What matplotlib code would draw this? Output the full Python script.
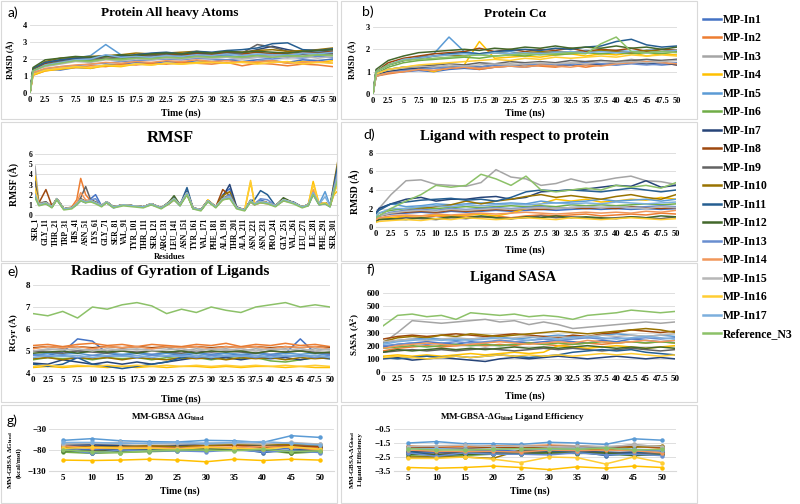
import matplotlib
matplotlib.use('Agg')
import matplotlib.pyplot as plt
from matplotlib.lines import Line2D
from matplotlib.patches import Rectangle

# fonts: Times-like bold everywhere, like the Excel original
plt.rcParams['font.family'] = ['Liberation Serif', 'DejaVu Serif']
plt.rcParams['font.weight'] = 'bold'
plt.rcParams['mathtext.fontset'] = 'custom'
plt.rcParams['mathtext.rm'] = 'Liberation Serif:bold'
plt.rcParams['mathtext.bf'] = 'Liberation Serif:bold'
plt.rcParams['mathtext.it'] = 'Liberation Serif:bold'

# ---------------- data ----------------
LABELS = ['MP-In1', 'MP-In2', 'MP-In3', 'MP-In4', 'MP-In5', 'MP-In6', 'MP-In7', 'MP-In8', 'MP-In9',
          'MP-In10', 'MP-In11', 'MP-In12', 'MP-In13', 'MP-In14', 'MP-In15', 'MP-In16', 'MP-In17',
          'Reference_N3']
COLORS = ['#4472C4', '#ED7D31', '#A5A5A5', '#FFC000', '#5B9BD5', '#70AD47', '#264478', '#9E480E',
          '#636363', '#997300', '#255E91', '#43682B', '#698ED0', '#F1975A', '#B7B7B7', '#FFCD33',
          '#7CAFDD', '#8CC168']

T_SHORT = [0, 0.5, 2.5, 5, 7.5, 10, 12.5, 15, 17.5, 20, 22.5, 25, 27.5, 30, 32.5, 35, 37.5, 40, 42.5, 45, 47.5, 50]
T_LONG = [0, 2.5, 5, 7.5, 10, 12.5, 15, 17.5, 20, 22.5, 25, 27.5, 30, 32.5, 35, 37.5, 40, 42.5, 45, 47.5, 50]
TIME_TICKS = [0, 2.5, 5, 7.5, 10, 12.5, 15, 17.5, 20, 22.5, 25, 27.5, 30, 32.5, 35, 37.5, 40, 42.5, 45, 47.5, 50]

# a) protein heavy atom RMSD (A)
RMSD_HEAVY = [
    [0, 1.15, 1.40, 1.35, 1.50, 1.45, 1.65, 1.70, 1.80, 1.75, 1.85, 1.80, 1.90, 1.85, 1.95, 1.85, 1.95, 1.90, 1.80, 1.95, 1.90, 2.00],
    [0, 1.05, 1.30, 1.45, 1.50, 1.60, 1.55, 1.70, 1.65, 1.75, 1.70, 1.80, 1.75, 1.70, 1.80, 1.60, 1.75, 1.70, 1.60, 1.70, 1.65, 1.55],
    [0, 1.30, 1.65, 1.80, 1.95, 1.90, 2.05, 2.00, 2.10, 2.05, 2.15, 2.05, 2.15, 2.10, 2.20, 2.10, 2.25, 2.20, 2.15, 2.25, 2.20, 2.35],
    [0, 1.05, 1.30, 1.40, 1.50, 1.45, 1.60, 1.55, 1.70, 1.65, 1.75, 1.70, 1.80, 1.85, 1.75, 1.85, 1.80, 1.90, 1.75, 1.85, 1.80, 1.90],
    [0, 1.40, 1.75, 1.95, 2.05, 2.20, 2.85, 2.25, 2.15, 2.20, 2.25, 2.15, 2.30, 2.25, 2.20, 2.30, 2.25, 2.35, 2.25, 2.30, 2.40, 2.45],
    [0, 1.30, 1.65, 1.80, 1.95, 1.90, 2.05, 2.00, 2.15, 2.10, 2.05, 2.15, 2.10, 2.20, 2.10, 2.15, 2.20, 2.10, 2.20, 2.15, 2.25, 2.20],
    [0, 1.40, 1.75, 1.90, 2.05, 2.00, 2.15, 2.20, 2.15, 2.25, 2.30, 2.25, 2.35, 2.30, 2.40, 2.35, 2.55, 2.75, 2.55, 2.40, 2.50, 2.45],
    [0, 1.35, 1.75, 1.95, 2.05, 2.10, 2.15, 2.10, 2.25, 2.20, 2.30, 2.25, 2.30, 2.25, 2.35, 2.30, 2.40, 2.30, 2.35, 2.40, 2.35, 2.45],
    [0, 1.30, 1.65, 1.85, 1.95, 2.05, 2.00, 2.15, 2.10, 2.20, 2.25, 2.15, 2.25, 2.20, 2.30, 2.35, 2.85, 2.70, 2.45, 2.30, 2.35, 2.30],
    [0, 1.40, 1.85, 2.05, 2.10, 2.15, 2.20, 2.25, 2.35, 2.30, 2.35, 2.40, 2.45, 2.35, 2.45, 2.40, 2.50, 2.55, 2.45, 2.50, 2.55, 2.65],
    [0, 1.45, 1.80, 1.95, 2.05, 2.10, 2.20, 2.15, 2.25, 2.35, 2.40, 2.30, 2.45, 2.40, 2.50, 2.55, 2.65, 2.90, 2.95, 2.55, 2.50, 2.60],
    [0, 1.50, 1.95, 2.05, 2.15, 2.10, 2.15, 2.25, 2.20, 2.30, 2.35, 2.30, 2.40, 2.35, 2.45, 2.40, 2.45, 2.40, 2.35, 2.45, 2.50, 2.55],
    [0, 1.20, 1.40, 1.55, 1.60, 1.70, 1.75, 1.85, 1.90, 1.95, 2.00, 1.95, 2.05, 2.00, 1.95, 2.05, 2.10, 2.00, 2.10, 2.05, 2.15, 2.10],
    [0, 1.20, 1.45, 1.55, 1.65, 1.70, 1.80, 1.75, 1.85, 1.80, 1.90, 1.85, 1.95, 1.85, 1.90, 1.80, 1.85, 1.90, 1.75, 1.80, 1.85, 1.75],
    [0, 1.30, 1.55, 1.70, 1.85, 1.80, 1.95, 1.90, 2.00, 1.95, 2.05, 2.00, 2.10, 2.05, 2.10, 2.00, 2.10, 2.15, 2.05, 2.15, 2.05, 2.15],
    [0, 1.10, 1.35, 1.45, 1.55, 1.50, 1.65, 1.60, 1.70, 1.65, 1.75, 1.70, 1.75, 1.80, 1.75, 1.80, 1.70, 1.80, 1.85, 1.70, 1.80, 1.75],
    [0, 1.30, 1.65, 1.80, 1.95, 2.00, 2.25, 2.10, 2.15, 2.10, 2.20, 2.15, 2.25, 2.20, 2.30, 2.20, 2.30, 2.25, 2.20, 2.35, 2.30, 2.40],
    [0, 1.30, 1.60, 1.75, 1.90, 1.85, 2.00, 1.95, 2.05, 2.00, 2.10, 2.05, 2.15, 2.10, 2.15, 2.10, 2.20, 2.10, 2.20, 2.15, 2.25, 2.20],
]

# b) protein C-alpha RMSD (A)
RMSD_CA = [
    [0, 0.80, 0.95, 1.00, 1.05, 1.00, 1.10, 1.15, 1.10, 1.20, 1.25, 1.20, 1.30, 1.25, 1.35, 1.30, 1.35, 1.30, 1.40, 1.35, 1.30, 1.35],
    [0, 0.80, 0.90, 1.00, 1.10, 1.05, 1.15, 1.20, 1.10, 1.20, 1.25, 1.30, 1.25, 1.20, 1.30, 1.20, 1.30, 1.35, 1.45, 1.35, 1.40, 1.30],
    [0, 0.90, 1.10, 1.20, 1.15, 1.25, 1.20, 1.30, 1.20, 1.30, 1.35, 1.30, 1.35, 1.40, 1.35, 1.45, 1.50, 1.45, 1.55, 1.45, 1.50, 1.55],
    [0, 0.80, 1.00, 1.10, 1.15, 1.00, 1.20, 1.30, 2.35, 1.60, 1.65, 1.70, 1.65, 1.75, 1.80, 1.70, 1.80, 1.75, 1.85, 1.70, 1.80, 1.75],
    [0, 1.00, 1.30, 1.50, 1.65, 1.80, 2.55, 1.90, 1.80, 1.85, 1.90, 1.80, 1.85, 1.90, 1.85, 1.95, 1.90, 1.95, 1.90, 1.95, 2.00, 1.95],
    [0, 0.90, 1.20, 1.40, 1.50, 1.55, 1.60, 1.65, 1.60, 1.70, 1.75, 1.70, 1.80, 1.75, 1.80, 1.85, 1.80, 1.85, 1.80, 1.85, 1.80, 1.90],
    [0, 0.90, 1.00, 1.10, 1.15, 1.20, 1.15, 1.25, 1.20, 1.30, 1.25, 1.35, 1.30, 1.35, 1.30, 1.40, 1.30, 1.35, 1.45, 1.35, 1.40, 1.30],
    [0, 1.00, 1.40, 1.60, 1.70, 1.80, 1.85, 1.90, 2.05, 1.90, 2.00, 1.90, 2.00, 1.95, 2.05, 1.90, 2.00, 1.95, 2.05, 1.90, 2.00, 1.95],
    [0, 0.90, 1.10, 1.20, 1.25, 1.30, 1.35, 1.30, 1.40, 1.35, 1.45, 1.40, 1.45, 1.40, 1.50, 1.45, 1.50, 1.45, 1.50, 1.55, 1.50, 1.55],
    [0, 1.00, 1.30, 1.50, 1.60, 1.70, 1.75, 1.70, 1.80, 1.85, 1.80, 1.85, 1.90, 1.85, 1.90, 1.85, 1.95, 1.90, 1.85, 1.95, 1.90, 1.95],
    [0, 1.00, 1.30, 1.50, 1.60, 1.70, 1.80, 1.85, 1.80, 1.90, 1.95, 2.00, 1.95, 2.05, 2.00, 2.10, 2.15, 2.35, 2.45, 2.20, 2.10, 2.15],
    [0, 1.10, 1.50, 1.70, 1.85, 1.90, 1.95, 2.00, 1.95, 2.05, 2.00, 2.10, 2.05, 2.15, 2.05, 2.10, 2.05, 2.15, 2.05, 2.10, 2.00, 2.10],
    [0, 0.80, 0.95, 1.05, 1.10, 1.15, 1.20, 1.25, 1.20, 1.30, 1.25, 1.35, 1.30, 1.35, 1.30, 1.40, 1.35, 1.30, 1.35, 1.30, 1.35, 1.40],
    [0, 0.80, 0.95, 1.00, 1.10, 1.05, 1.15, 1.20, 1.15, 1.20, 1.25, 1.20, 1.30, 1.25, 1.20, 1.30, 1.25, 1.35, 1.40, 1.45, 1.40, 1.35],
    [0, 0.90, 1.10, 1.20, 1.25, 1.20, 1.30, 1.25, 1.30, 1.35, 1.30, 1.35, 1.40, 1.35, 1.40, 1.35, 1.45, 1.40, 1.45, 1.40, 1.45, 1.50],
    [0, 0.90, 1.10, 1.20, 1.30, 1.35, 1.40, 1.45, 1.50, 1.55, 1.50, 1.60, 1.55, 1.65, 1.60, 1.65, 1.70, 1.65, 1.75, 1.70, 1.75, 1.70],
    [0, 1.00, 1.30, 1.55, 1.60, 1.70, 1.75, 1.80, 1.75, 1.85, 1.80, 1.85, 1.80, 1.85, 1.90, 1.85, 1.90, 1.85, 1.90, 1.85, 1.90, 1.95],
    [0, 1.00, 1.30, 1.50, 1.55, 1.60, 1.65, 1.70, 1.75, 1.70, 1.75, 1.80, 1.75, 1.80, 1.85, 1.80, 2.25, 2.55, 1.90, 1.85, 1.90, 1.85],
]

# d) ligand RMSD with respect to protein (A)
LIG_RMSD = [
    [1.0, 1.2, 1.4, 1.5, 1.6, 1.5, 1.7, 1.6, 1.7, 1.8, 1.7, 1.8, 1.9, 1.8, 1.9, 2.0, 1.9, 2.0, 1.9, 2.0, 1.9, 2.0],
    [0.8, 1.0, 1.0, 1.1, 1.0, 1.2, 1.1, 1.2, 1.1, 1.2, 1.0, 1.2, 1.3, 1.2, 1.3, 1.4, 1.2, 1.3, 1.4, 1.3, 1.5, 1.4],
    [1.5, 2.0, 3.5, 5.0, 5.1, 4.6, 4.5, 4.4, 4.8, 6.2, 5.4, 5.2, 4.5, 4.7, 5.2, 4.8, 5.0, 5.3, 5.5, 5.0, 4.9, 4.6],
    [0.8, 1.0, 1.0, 1.2, 1.2, 1.3, 1.2, 1.3, 1.4, 1.2, 1.5, 2.0, 2.5, 3.0, 2.8, 3.0, 2.7, 2.8, 3.0, 2.9, 3.2, 3.0],
    [1.5, 2.0, 2.5, 2.2, 2.3, 2.5, 2.4, 2.5, 2.6, 2.5, 2.6, 2.5, 2.8, 2.6, 2.7, 2.8, 3.0, 2.8, 2.9, 3.0, 2.8, 3.0],
    [1.2, 1.5, 1.8, 2.0, 2.1, 2.0, 2.1, 2.2, 2.1, 2.2, 2.3, 2.2, 2.3, 2.2, 2.4, 2.3, 2.4, 2.3, 2.4, 2.5, 2.4, 2.5],
    [1.5, 2.0, 2.5, 3.0, 3.2, 2.8, 3.0, 3.0, 3.2, 3.3, 3.0, 3.2, 3.8, 3.9, 4.0, 4.1, 4.3, 4.5, 4.4, 5.0, 4.3, 4.5],
    [1.0, 1.2, 1.5, 1.6, 1.7, 1.6, 1.8, 1.7, 1.8, 1.9, 1.8, 2.0, 1.9, 2.0, 2.1, 2.0, 2.1, 2.0, 2.2, 2.1, 2.0, 2.1],
    [0.6, 0.8, 0.8, 1.0, 0.9, 0.8, 1.0, 0.9, 1.1, 1.0, 0.9, 1.0, 1.2, 1.0, 1.1, 1.0, 0.9, 1.0, 1.1, 1.0, 0.9, 1.1],
    [1.0, 1.2, 1.5, 1.8, 2.0, 2.2, 2.4, 2.8, 2.5, 2.8, 3.0, 3.3, 3.5, 3.2, 3.4, 3.2, 3.0, 3.3, 3.5, 3.2, 3.0, 3.5],
    [1.5, 1.8, 2.5, 2.7, 2.9, 3.0, 3.1, 2.9, 3.0, 2.8, 3.2, 3.8, 4.0, 3.9, 4.0, 3.9, 3.8, 4.0, 4.2, 4.0, 3.8, 4.0],
    [0.6, 0.8, 0.9, 0.8, 1.0, 0.9, 1.1, 1.0, 1.2, 1.0, 0.9, 1.1, 1.0, 1.2, 1.0, 1.1, 1.0, 0.9, 1.1, 1.0, 1.2, 1.1],
    [1.0, 1.2, 1.6, 1.8, 1.9, 1.8, 2.0, 1.9, 2.0, 2.1, 2.0, 2.1, 2.2, 2.0, 2.1, 2.2, 2.1, 2.2, 2.1, 2.2, 2.3, 2.2],
    [0.8, 1.0, 1.2, 1.3, 1.2, 1.4, 1.3, 1.4, 1.5, 1.4, 1.5, 1.6, 1.5, 1.4, 1.5, 1.6, 1.5, 1.6, 1.5, 1.7, 1.6, 1.8],
    [1.0, 1.2, 1.5, 1.7, 1.8, 1.7, 1.9, 1.8, 1.9, 2.0, 1.9, 2.0, 2.1, 2.0, 2.1, 2.2, 2.1, 2.2, 2.1, 2.0, 2.2, 2.1],
    [0.5, 0.6, 0.7, 0.8, 0.7, 0.9, 0.8, 1.0, 0.9, 0.8, 0.9, 1.0, 0.9, 0.8, 1.0, 0.9, 0.8, 0.9, 1.0, 0.9, 0.8, 0.9],
    [1.2, 1.5, 2.0, 2.0, 2.2, 2.3, 2.2, 2.4, 2.3, 2.4, 2.5, 2.4, 2.5, 2.6, 2.5, 2.6, 2.5, 2.7, 2.6, 2.5, 2.6, 2.7],
    [1.0, 1.2, 2.0, 2.8, 3.5, 4.5, 4.3, 4.5, 5.7, 5.2, 4.5, 5.5, 4.0, 3.8, 4.0, 4.2, 4.0, 4.5, 4.3, 4.5, 4.2, 4.8],
]

# e) ligand radius of gyration (A)
RGYR = [
    [4.85, 4.80, 4.95, 5.55, 5.45, 4.90, 4.80, 4.90, 4.85, 4.90, 4.80, 4.90, 4.85, 4.90, 4.80, 4.90, 4.85, 4.90, 5.55, 4.90, 4.85],
    [5.25, 5.30, 5.20, 5.30, 5.35, 5.25, 5.30, 5.20, 5.30, 5.25, 5.20, 5.30, 5.25, 5.35, 5.20, 5.30, 5.25, 5.35, 5.25, 5.30, 5.20],
    [5.00, 5.05, 5.10, 5.00, 5.10, 5.00, 5.10, 5.05, 5.10, 5.15, 5.00, 5.10, 5.05, 5.10, 5.00, 5.10, 5.05, 5.10, 5.00, 5.10, 5.05],
    [4.25, 4.30, 4.25, 4.30, 4.30, 4.25, 4.30, 4.25, 4.30, 4.25, 4.30, 4.30, 4.25, 4.30, 4.25, 4.30, 4.30, 4.25, 4.30, 4.25, 4.25],
    [4.80, 4.90, 4.85, 4.90, 4.80, 4.90, 4.85, 4.90, 4.80, 4.90, 4.85, 4.90, 4.80, 4.90, 4.85, 4.90, 4.80, 4.90, 4.85, 4.90, 4.80],
    [4.60, 4.70, 4.65, 4.70, 4.60, 4.70, 4.65, 4.70, 4.60, 4.70, 4.65, 4.70, 4.60, 4.70, 4.65, 4.70, 4.55, 4.50, 4.60, 4.70, 4.65],
    [4.45, 4.40, 4.60, 4.50, 4.40, 4.50, 4.40, 4.50, 4.40, 4.50, 4.60, 4.70, 4.65, 4.70, 4.60, 4.70, 4.65, 4.70, 4.60, 4.70, 4.65],
    [5.15, 5.20, 5.15, 5.20, 5.15, 5.20, 5.15, 5.20, 5.15, 5.20, 5.15, 5.20, 5.15, 5.20, 5.15, 5.20, 5.15, 5.20, 5.15, 5.20, 5.15],
    [5.00, 4.95, 4.90, 5.00, 4.95, 4.90, 5.00, 4.95, 5.00, 4.95, 4.90, 5.00, 4.95, 5.00, 4.95, 4.90, 5.00, 4.95, 5.00, 4.95, 4.90],
    [4.65, 4.70, 4.60, 4.70, 4.65, 4.70, 4.60, 4.70, 4.65, 4.60, 4.70, 4.65, 4.70, 4.60, 4.70, 4.65, 4.70, 4.60, 4.70, 4.65, 4.70],
    [4.40, 4.30, 4.40, 4.70, 4.40, 4.30, 4.20, 4.30, 4.40, 4.50, 4.70, 4.80, 4.70, 4.80, 4.75, 4.80, 4.70, 4.80, 4.75, 4.80, 4.70],
    [4.90, 4.95, 5.00, 4.90, 5.00, 4.95, 5.00, 4.90, 5.00, 4.95, 5.00, 4.90, 5.00, 4.95, 5.00, 4.90, 5.00, 4.95, 5.00, 4.90, 4.95],
    [4.80, 4.75, 4.80, 4.70, 4.80, 4.75, 4.80, 4.70, 4.80, 4.75, 4.80, 4.70, 4.80, 4.75, 4.80, 4.70, 4.80, 4.75, 4.80, 4.70, 4.80],
    [5.10, 5.20, 5.15, 5.20, 5.10, 5.20, 5.15, 5.20, 5.10, 5.20, 5.15, 5.20, 5.10, 5.20, 5.15, 5.20, 5.10, 5.20, 5.15, 5.20, 5.10],
    [5.00, 5.10, 5.05, 5.10, 5.00, 5.10, 5.05, 5.10, 5.00, 5.05, 5.10, 5.00, 5.10, 5.05, 5.10, 5.00, 5.10, 5.05, 5.10, 5.00, 5.10],
    [4.30, 4.35, 4.30, 4.35, 4.30, 4.35, 4.30, 4.35, 4.30, 4.35, 4.30, 4.35, 4.30, 4.35, 4.30, 4.35, 4.30, 4.35, 4.30, 4.35, 4.30],
    [4.70, 4.80, 4.75, 4.80, 4.70, 4.80, 4.75, 4.80, 4.70, 4.80, 4.75, 4.80, 4.70, 4.80, 4.75, 4.80, 4.70, 4.80, 4.75, 4.80, 4.70],
    [6.70, 6.60, 6.80, 6.50, 7.00, 6.90, 7.10, 7.20, 7.05, 6.70, 6.90, 6.75, 7.00, 6.85, 6.75, 7.00, 7.10, 7.20, 7.00, 7.10, 7.00],
]

# f) ligand SASA (A^2)
SASA = [
    [190, 210, 220, 230, 220, 210, 230, 220, 240, 230, 220, 230, 240, 230, 220, 240, 230, 250, 240, 230, 240],
    [160, 180, 190, 200, 190, 200, 210, 200, 210, 200, 220, 210, 200, 210, 220, 210, 220, 230, 220, 230, 220],
    [220, 300, 390, 380, 370, 380, 390, 400, 380, 390, 360, 380, 360, 330, 340, 350, 360, 370, 380, 370, 380],
    [120, 130, 120, 130, 120, 130, 140, 130, 140, 150, 140, 150, 200, 190, 180, 190, 200, 190, 180, 190, 200],
    [220, 240, 250, 260, 250, 240, 250, 260, 270, 250, 260, 270, 280, 270, 260, 280, 290, 280, 270, 280, 270],
    [180, 190, 200, 190, 200, 210, 200, 210, 200, 210, 220, 210, 220, 210, 220, 230, 220, 230, 220, 230, 220],
    [100, 110, 90, 100, 110, 100, 90, 80, 100, 110, 100, 110, 120, 110, 100, 110, 120, 110, 100, 110, 100],
    [250, 270, 280, 270, 280, 290, 280, 270, 280, 290, 280, 270, 260, 280, 270, 290, 300, 320, 310, 300, 310],
    [150, 160, 170, 160, 170, 160, 170, 180, 170, 160, 170, 180, 170, 180, 170, 160, 170, 180, 170, 160, 170],
    [230, 260, 270, 260, 280, 270, 290, 280, 270, 280, 290, 300, 310, 300, 290, 300, 310, 320, 330, 320, 300],
    [110, 100, 110, 120, 110, 120, 110, 120, 130, 120, 110, 120, 130, 150, 160, 170, 160, 170, 150, 140, 130],
    [150, 170, 160, 170, 180, 170, 180, 170, 180, 190, 180, 190, 180, 190, 200, 190, 180, 190, 180, 190, 180],
    [200, 210, 220, 210, 220, 230, 220, 230, 240, 230, 240, 250, 240, 250, 260, 250, 260, 250, 260, 250, 260],
    [180, 200, 210, 220, 210, 200, 210, 220, 230, 220, 210, 220, 230, 220, 240, 230, 220, 230, 240, 230, 240],
    [230, 240, 250, 240, 250, 260, 250, 260, 250, 260, 270, 260, 270, 260, 270, 280, 270, 280, 270, 280, 290],
    [110, 120, 110, 100, 110, 120, 110, 120, 130, 120, 130, 120, 130, 120, 130, 140, 130, 140, 130, 120, 130],
    [210, 230, 240, 250, 240, 250, 240, 250, 260, 250, 240, 260, 250, 260, 270, 260, 250, 260, 270, 260, 250],
    [350, 430, 440, 420, 430, 400, 450, 440, 430, 440, 420, 430, 420, 400, 430, 440, 450, 470, 460, 450, 460],
]

# c) RMSF per residue (A)
RES = [1, 5, 12, 18, 23, 30, 38, 43, 47, 52, 57, 62, 68, 73, 80, 90, 100, 110, 118, 128, 136, 141, 147, 154,
       160, 168, 175, 183, 190, 197, 204, 212, 218, 222, 228, 235, 243, 251, 261, 270, 276, 281, 287, 293,
       298, 302, 306]
RES_LABELS = ['SER_1', 'GLY_11', 'THR_21', 'TRP_31', 'HIS_41', 'ASN_51', 'LYS_61', 'GLY_71', 'SER_81', 'VAL_91',
              'TYR_101', 'THR_111', 'SER_121', 'ARG_131', 'LEU_141', 'ASN_151', 'TYR_161', 'VAL_171', 'PHE_181',
              'ALA_191', 'THR_201', 'ALA_211', 'ASN_221', 'ASN_231', 'PRO_241', 'GLY_251', 'VAL_261', 'LEU_271',
              'ILE_281', 'PHE_291', 'SER_301']
RMSF = [
    [1.9, 1.0, 1.1, 0.8, 1.5, 0.6, 0.7, 1.0, 1.4, 1.2, 1.6, 2.0, 0.9, 1.2, 0.7, 1.0, 0.9, 0.8, 1.0, 0.7, 1.1, 1.5, 0.9, 2.4, 0.6, 0.5, 1.3, 0.8, 2.0, 2.6, 0.7, 0.5, 1.3, 1.0, 1.5, 1.2, 0.9, 1.4, 1.3, 0.8, 0.9, 2.0, 1.0, 1.1, 0.8, 2.6, 4.2],
    [2.2, 1.1, 1.3, 0.8, 1.6, 0.6, 0.8, 1.5, 3.6, 2.0, 1.4, 1.2, 0.9, 1.2, 0.8, 1.0, 0.9, 0.8, 1.1, 0.7, 1.1, 1.5, 1.0, 2.0, 0.7, 0.5, 1.4, 0.8, 1.5, 1.7, 0.7, 0.5, 1.3, 1.0, 1.2, 1.1, 0.9, 1.4, 1.2, 0.8, 1.0, 2.4, 1.1, 1.2, 0.9, 2.2, 3.4],
    [4.8, 1.2, 1.3, 0.8, 1.6, 0.6, 0.7, 1.1, 1.6, 1.4, 1.4, 1.3, 0.9, 1.3, 0.8, 1.0, 0.9, 0.8, 1.1, 0.7, 1.2, 1.6, 1.0, 2.1, 0.7, 0.5, 1.4, 0.8, 1.6, 1.8, 0.7, 0.5, 1.5, 1.1, 1.3, 1.2, 0.9, 1.5, 1.2, 0.8, 1.0, 2.3, 1.1, 1.2, 0.9, 2.4, 3.8],
    [3.8, 1.1, 1.2, 0.8, 1.6, 0.6, 0.7, 1.1, 1.5, 1.3, 1.4, 1.2, 0.9, 1.3, 0.8, 1.0, 0.9, 0.8, 1.1, 0.7, 1.2, 1.6, 1.0, 2.2, 0.7, 0.5, 1.5, 0.8, 1.7, 1.9, 0.7, 0.5, 3.2, 1.2, 1.3, 1.2, 0.9, 1.5, 1.2, 0.8, 1.0, 3.3, 1.1, 1.2, 0.9, 2.0, 2.4],
    [2.0, 1.0, 1.2, 0.8, 1.6, 0.6, 0.7, 1.1, 1.5, 1.3, 1.4, 1.2, 0.9, 1.3, 0.8, 1.0, 0.9, 0.8, 1.1, 0.7, 1.2, 1.6, 1.0, 2.2, 0.7, 0.5, 1.4, 0.8, 1.6, 1.8, 0.7, 0.5, 1.4, 1.1, 1.3, 1.2, 0.9, 1.5, 1.2, 0.8, 1.0, 2.2, 1.1, 2.3, 0.9, 2.5, 4.0],
    [1.8, 1.0, 1.1, 0.8, 1.5, 0.6, 0.7, 1.1, 1.4, 1.3, 1.3, 1.2, 0.9, 1.3, 0.8, 1.0, 0.9, 0.8, 1.1, 0.7, 1.2, 1.5, 1.0, 2.0, 0.7, 0.5, 1.4, 0.8, 1.5, 1.7, 0.7, 0.5, 1.4, 1.1, 1.3, 1.2, 0.9, 1.5, 1.2, 0.8, 1.0, 2.1, 1.1, 1.2, 0.9, 2.4, 3.7],
    [2.1, 1.0, 1.2, 0.8, 1.6, 0.6, 0.7, 1.1, 1.5, 1.3, 1.4, 1.2, 0.9, 1.3, 0.8, 1.0, 0.9, 0.8, 1.1, 0.7, 1.2, 1.6, 1.0, 2.3, 0.7, 0.5, 1.4, 0.8, 1.8, 3.0, 0.8, 0.5, 1.4, 1.1, 1.3, 1.2, 0.9, 1.5, 1.2, 0.8, 1.0, 2.2, 1.1, 1.2, 0.9, 2.5, 4.1],
    [2.2, 1.2, 2.5, 0.9, 1.6, 0.6, 0.7, 1.1, 1.6, 1.3, 1.4, 1.2, 0.9, 1.3, 0.8, 1.0, 0.9, 0.8, 1.1, 0.7, 1.2, 1.6, 1.0, 2.2, 0.7, 0.5, 1.4, 0.8, 2.5, 1.9, 0.7, 0.5, 1.4, 1.1, 1.3, 1.2, 0.9, 1.5, 1.2, 0.8, 1.0, 2.3, 1.1, 1.2, 0.9, 2.6, 4.3],
    [3.3, 1.1, 1.3, 0.8, 1.6, 0.6, 0.7, 1.1, 1.7, 2.8, 1.5, 1.3, 0.9, 1.3, 0.8, 1.0, 0.9, 0.8, 1.1, 0.7, 1.2, 1.6, 1.0, 2.1, 0.7, 0.5, 1.4, 0.8, 1.6, 1.8, 0.7, 0.5, 1.4, 1.1, 1.3, 1.2, 0.9, 1.6, 1.2, 0.8, 1.0, 2.2, 1.1, 1.2, 0.9, 2.5, 4.0],
    [2.0, 1.0, 1.2, 0.8, 1.6, 0.6, 0.7, 1.1, 1.5, 1.3, 1.4, 1.2, 0.9, 1.3, 0.8, 1.0, 0.9, 0.8, 1.1, 0.7, 1.2, 1.6, 1.0, 2.2, 0.7, 0.5, 1.4, 0.8, 1.9, 2.3, 0.7, 0.5, 1.4, 1.1, 1.3, 1.2, 0.9, 1.5, 1.2, 0.8, 1.0, 2.2, 1.1, 1.2, 0.9, 3.2, 5.4],
    [2.0, 1.0, 1.2, 0.8, 1.6, 0.6, 0.7, 1.1, 1.5, 1.3, 1.4, 1.2, 0.9, 1.3, 0.8, 1.0, 0.9, 0.8, 1.1, 0.7, 1.2, 1.7, 1.0, 2.7, 0.7, 0.5, 1.4, 0.8, 1.6, 2.0, 0.7, 0.5, 1.4, 1.5, 2.4, 2.0, 0.9, 1.5, 1.2, 0.8, 1.0, 2.2, 1.1, 1.2, 0.9, 3.0, 5.0],
    [2.0, 1.0, 1.2, 0.8, 1.6, 0.6, 0.7, 1.1, 1.5, 1.3, 1.4, 1.2, 0.9, 1.3, 0.8, 1.0, 0.9, 0.8, 1.1, 0.7, 1.3, 1.9, 1.0, 2.2, 0.7, 0.5, 1.4, 0.8, 1.6, 1.8, 0.7, 0.5, 1.4, 1.1, 1.3, 1.2, 0.9, 1.7, 1.2, 0.8, 1.0, 2.2, 1.1, 1.2, 0.9, 2.5, 4.0],
    [1.9, 1.0, 1.2, 0.8, 1.5, 0.6, 0.7, 1.1, 1.5, 1.3, 1.5, 1.6, 0.9, 1.3, 0.8, 1.0, 0.9, 0.8, 1.1, 0.7, 1.2, 1.6, 1.0, 2.2, 0.7, 0.5, 1.4, 0.8, 1.6, 2.0, 0.7, 0.5, 1.4, 1.1, 1.6, 1.5, 0.9, 1.5, 1.2, 0.8, 1.0, 2.2, 1.1, 1.2, 0.9, 2.7, 4.4],
    [2.1, 1.0, 1.2, 0.8, 1.6, 0.6, 0.7, 1.2, 2.2, 1.5, 1.4, 1.2, 0.9, 1.3, 0.8, 1.0, 0.9, 0.8, 1.1, 0.7, 1.2, 1.6, 1.0, 2.2, 0.7, 0.5, 1.4, 0.8, 1.6, 1.8, 0.7, 0.5, 1.4, 1.1, 1.3, 1.2, 0.9, 1.5, 1.2, 0.8, 1.0, 2.5, 1.1, 1.2, 0.9, 2.5, 4.0],
    [2.5, 1.1, 1.2, 0.8, 1.6, 0.6, 0.7, 1.1, 1.5, 1.3, 1.4, 1.2, 0.9, 1.3, 0.8, 1.0, 0.9, 0.8, 1.1, 0.7, 1.2, 1.6, 1.0, 2.2, 0.7, 0.5, 1.4, 0.8, 1.6, 1.8, 0.7, 0.5, 1.4, 1.1, 1.3, 1.2, 0.9, 1.5, 1.2, 0.8, 1.0, 2.2, 1.1, 1.2, 0.9, 2.3, 3.6],
    [2.6, 1.0, 1.2, 0.8, 1.6, 0.6, 0.7, 1.1, 1.5, 1.3, 1.4, 1.2, 0.9, 1.3, 0.8, 1.0, 0.9, 0.8, 1.1, 0.7, 1.2, 1.6, 1.0, 2.2, 0.7, 0.5, 1.4, 0.8, 1.6, 1.8, 0.7, 0.5, 3.4, 1.1, 1.3, 1.2, 0.9, 1.5, 1.2, 0.8, 1.0, 3.0, 1.1, 1.2, 0.9, 2.2, 3.0],
    [2.0, 1.0, 1.2, 0.8, 1.6, 0.6, 0.7, 1.1, 1.5, 1.3, 1.4, 1.2, 0.9, 1.3, 0.8, 1.0, 0.9, 0.8, 1.1, 0.7, 1.2, 1.6, 1.0, 2.2, 0.7, 0.5, 1.4, 0.8, 1.6, 1.8, 0.7, 0.5, 1.4, 1.1, 1.3, 1.2, 0.9, 1.5, 1.2, 0.8, 1.0, 2.2, 1.1, 1.8, 0.9, 2.5, 4.0],
    [1.7, 0.9, 1.1, 0.7, 1.5, 0.5, 0.6, 1.0, 1.4, 1.2, 1.3, 1.1, 0.8, 1.2, 0.7, 0.9, 0.8, 0.7, 1.0, 0.6, 1.1, 1.5, 0.9, 2.0, 0.6, 0.4, 1.3, 0.7, 1.5, 1.6, 0.6, 0.4, 1.3, 1.0, 1.2, 1.1, 0.8, 1.4, 1.1, 0.7, 0.9, 2.0, 1.0, 1.1, 0.8, 2.3, 3.6],
]

# g) MM-GBSA every 5 ns
GB_TIME = [5, 10, 15, 20, 25, 30, 35, 40, 45, 50]
DG_BIND = [
    [-75, -80, -78, -76, -74, -78, -80, -82, -75, -72],
    [-70, -72, -75, -70, -72, -68, -70, -72, -68, -75],
    [-65, -68, -66, -64, -66, -64, -65, -66, -64, -66],
    [-104, -105, -104, -102, -104, -108, -102, -105, -102, -104],
    [-57, -53, -58, -60, -61, -57, -58, -62, -46, -50],
    [-85, -88, -86, -84, -82, -80, -78, -80, -88, -84],
    [-68, -68, -70, -72, -70, -66, -68, -70, -72, -70],
    [-72, -74, -76, -72, -74, -70, -68, -74, -70, -72],
    [-80, -82, -80, -78, -80, -76, -78, -80, -82, -80],
    [-73, -74, -72, -70, -72, -70, -66, -68, -66, -68],
    [-78, -86, -82, -80, -76, -74, -76, -86, -80, -78],
    [-82, -84, -82, -82, -80, -78, -80, -78, -86, -82],
    [-78, -88, -80, -82, -82, -84, -80, -84, -82, -86],
    [-70, -76, -74, -74, -76, -72, -74, -72, -74, -80],
    [-66, -64, -62, -66, -64, -66, -64, -66, -62, -66],
    [-76, -74, -76, -76, -78, -74, -76, -78, -72, -78],
    [-62, -62, -64, -64, -62, -64, -62, -60, -64, -68],
    [-80, -84, -86, -82, -80, -80, -82, -78, -84, -82],
]
LIG_EFF = [
    [-2.2, -2.2, -2.1, -2.0, -2.1, -2.2, -2.2, -2.3, -2.1, -2.0],
    [-1.7, -1.8, -1.75, -1.7, -1.7, -1.65, -1.7, -1.8, -1.7, -1.9],
    [-1.8, -1.9, -1.85, -1.8, -1.85, -1.8, -1.8, -1.85, -1.6, -1.8],
    [-3.25, -3.3, -3.25, -3.15, -3.25, -3.4, -3.2, -3.3, -3.15, -3.25],
    [-1.5, -1.4, -1.55, -1.55, -1.6, -1.45, -1.5, -1.6, -1.2, -1.3],
    [-2.4, -2.5, -2.4, -2.3, -2.3, -2.2, -2.2, -2.3, -2.4, -2.3],
    [-2.1, -2.1, -2.2, -2.2, -2.15, -2.0, -2.1, -2.15, -2.2, -2.2],
    [-1.8, -1.85, -1.9, -1.8, -1.85, -1.75, -1.7, -1.85, -1.75, -1.8],
    [-2.2, -2.3, -2.2, -2.15, -2.2, -2.1, -2.15, -2.2, -2.25, -2.2],
    [-2.5, -2.5, -2.5, -2.6, -2.0, -2.0, -1.9, -2.0, -1.8, -1.7],
    [-2.1, -2.4, -2.3, -2.2, -2.1, -2.05, -2.1, -2.4, -2.2, -2.15],
    [-2.3, -2.35, -2.3, -2.3, -2.25, -2.2, -2.25, -2.2, -2.4, -2.3],
    [-2.2, -2.45, -2.2, -2.3, -2.3, -2.35, -2.2, -2.35, -2.3, -2.4],
    [-2.0, -2.1, -2.1, -2.1, -2.15, -2.0, -2.05, -2.0, -2.05, -2.2],
    [-1.75, -1.7, -1.65, -1.75, -1.7, -1.75, -1.7, -1.75, -1.65, -1.75],
    [-2.6, -2.6, -2.5, -2.65, -2.9, -2.5, -2.55, -3.0, -2.5, -2.9],
    [-1.9, -1.9, -1.95, -1.95, -1.9, -1.95, -1.9, -1.85, -1.95, -2.0],
    [-1.9, -2.0, -2.0, -1.95, -1.9, -1.9, -1.95, -1.85, -2.0, -1.95],
]

# ---------------- figure ----------------
W, H = 800, 504
fig = plt.figure(figsize=(W / 100, H / 100), dpi=100)
GRID = '#D9D9D9'


def px_axes(x0, y0, x1, y1):
    # axes from pixel box (left, top, right, bottom)
    return fig.add_axes([x0 / W, 1 - y1 / H, (x1 - x0) / W, (y1 - y0) / H])


def ftext(x, y, s, **kw):
    kw.setdefault('ha', 'center')
    kw.setdefault('va', 'center')
    fig.text(x / W, 1 - y / H, s, **kw)


def box(x0, y0, x1, y1):
    fig.add_artist(Rectangle((x0 / W, 1 - y1 / H), (x1 - x0) / W, (y1 - y0) / H,
                             transform=fig.transFigure, fill=False, ec=GRID, lw=0.8))


def style(ax, ylim, yticks, fs=6):
    ax.set_ylim(ylim)
    ax.set_yticks(yticks)
    ax.grid(axis='y', color=GRID, lw=0.6)
    ax.set_axisbelow(True)
    for s in ['top', 'right', 'left']:
        ax.spines[s].set_visible(False)
    ax.spines['bottom'].set_color(GRID)
    ax.tick_params(length=0, labelsize=fs, pad=2)
    for lab in ax.get_xticklabels() + ax.get_yticklabels():
        lab.set_fontweight('bold')


def time_axis(ax):
    ax.set_xlim(0, 50)
    ax.set_xticks(TIME_TICKS)
    ax.set_xticklabels([f'{v:g}' for v in TIME_TICKS])


def draw_series(ax, x, data, lw=1.1, **kw):
    for vals, c in zip(data, COLORS):
        ax.plot(x, vals, color=c, lw=lw, **kw)


# panel frames
box(1, 1, 337, 119)
box(341, 1, 697, 119)
box(1, 122, 337, 261)
box(341, 122, 697, 261)
box(1, 263, 337, 402)
box(341, 263, 697, 402)
box(1, 405, 337, 503)
box(341, 405, 697, 503)

# a) protein heavy atoms
ax = px_axes(30, 25, 333, 93)
draw_series(ax, T_SHORT, RMSD_HEAVY)
time_axis(ax)
style(ax, (0, 4), [0, 1, 2, 3, 4])
ftext(170, 13, 'Protein All heavy Atoms', fontsize=9.5)
ftext(11, 60, 'RMSD (Å)', fontsize=6, rotation=90)
ftext(181, 113, 'Time (ns)', fontsize=7)

# b) protein C-alpha
ax = px_axes(373, 27, 677, 94)
draw_series(ax, T_SHORT, RMSD_CA)
time_axis(ax)
style(ax, (0, 3), [0, 1, 2, 3])
ftext(515, 14, 'Protein Cα', fontsize=9.5)
ftext(353, 60, 'RMSD (Å)', fontsize=6, rotation=90)
ftext(525, 113, 'Time (ns)', fontsize=7)

# c) RMSF
ax = px_axes(35, 154, 338, 215)
draw_series(ax, RES, RMSF)
ax.set_xlim(1, 306)
ax.set_xticks(list(range(1, 302, 10)))
ax.set_xticklabels(RES_LABELS, rotation=90)
style(ax, (0, 6), [0, 1, 2, 3, 4, 5, 6], fs=5.5)
ftext(170, 138, 'RMSF', fontsize=12)
ftext(14, 185, 'RMSF (Å)', fontsize=7, rotation=90)
ftext(170, 257, 'Residues', fontsize=6)

# d) ligand RMSD
ax = px_axes(376, 153, 676, 227)
draw_series(ax, T_SHORT, LIG_RMSD)
time_axis(ax)
style(ax, (0, 8), [0, 2, 4, 6, 8])
ftext(515, 137, 'Ligand with respect to protein', fontsize=10.5)
ftext(355, 192, 'RMSD (Å)', fontsize=7, rotation=90)
ftext(525, 250, 'Time (ns)', fontsize=7)

# e) radius of gyration
ax = px_axes(33, 285, 330, 373)
draw_series(ax, T_LONG, RGYR)
time_axis(ax)
style(ax, (4, 8), [4, 5, 6, 7, 8], fs=6.5)
ftext(170, 272, 'Radius of Gyration of Ligands', fontsize=11)
ftext(14, 333, 'RGyr (Å)', fontsize=6.5, rotation=90)
ftext(181, 399, 'Time (ns)', fontsize=7)

# f) SASA
ax = px_axes(383, 293, 675, 372)
draw_series(ax, T_LONG, SASA)
time_axis(ax)
style(ax, (0, 600), [0, 100, 200, 300, 400, 500, 600], fs=6.5)
ftext(513, 277, 'Ligand SASA', fontsize=10.5)
ftext(355, 335, 'SASA (Å$^{2}$)', fontsize=6.5, rotation=90)
ftext(525, 396, 'Time (ns)', fontsize=7)

# g) MM-GBSA dG bind
ax = px_axes(49, 429, 334, 471)
draw_series(ax, GB_TIME, DG_BIND, marker='o', ms=2.2)
ax.set_xlim(2.5, 52.5)
ax.set_xticks(GB_TIME)
style(ax, (-130, -30), [-130, -80, -30], fs=6.5)
ftext(168, 417, r'MM-GBSA ΔG$_{\mathbf{bind}}$', fontsize=6.5)
ftext(11, 460, r'MM-GBSA ΔG$_{\mathbf{bind}}$', fontsize=5, rotation=90)
ftext(18.5, 463, '(kcal/mol)', fontsize=5, rotation=90)
ftext(180, 491, 'Time (ns)', fontsize=7)

# g) ligand efficiency
ax = px_axes(394, 429, 676, 471)
draw_series(ax, GB_TIME, LIG_EFF, marker='o', ms=2.2)
ax.set_xlim(2.5, 52.5)
ax.set_xticks(GB_TIME)
style(ax, (-3.5, -0.5), [-3.5, -2.5, -1.5, -0.5], fs=6.5)
ftext(513, 417, r'MM-GBSA-ΔG$_{\mathbf{bind}}$ Ligand Efficiency', fontsize=6.5)
ftext(353, 460, r'MM-GBSA-ΔG$_{\mathbf{bind}}$', fontsize=5, rotation=90)
ftext(360.5, 460, 'Ligand Efficiency', fontsize=5, rotation=90)
ftext(530, 491, 'Time (ns)', fontsize=7)

# panel letters
for x, y, s in [(8, 13, 'a)'), (362, 12, 'b)'), (363, 135, 'd)'), (7, 272, 'e)'),
                (367, 270, 'f)'), (7, 421, 'g)')]:
    ftext(x, y, s, ha='left', fontsize=10, family='Lato', fontweight='normal')

# legend
handles = [Line2D([], [], color=c, lw=1.8) for c in COLORS]
fig.legend(handles, LABELS, loc='upper left', bbox_to_anchor=(703 / W, 1 - 14 / H),
           frameon=False, fontsize=8.5, handlelength=1.5, handletextpad=0.2,
           labelspacing=0.55, borderaxespad=0, borderpad=0)

fig.savefig('out.png', dpi=100)
